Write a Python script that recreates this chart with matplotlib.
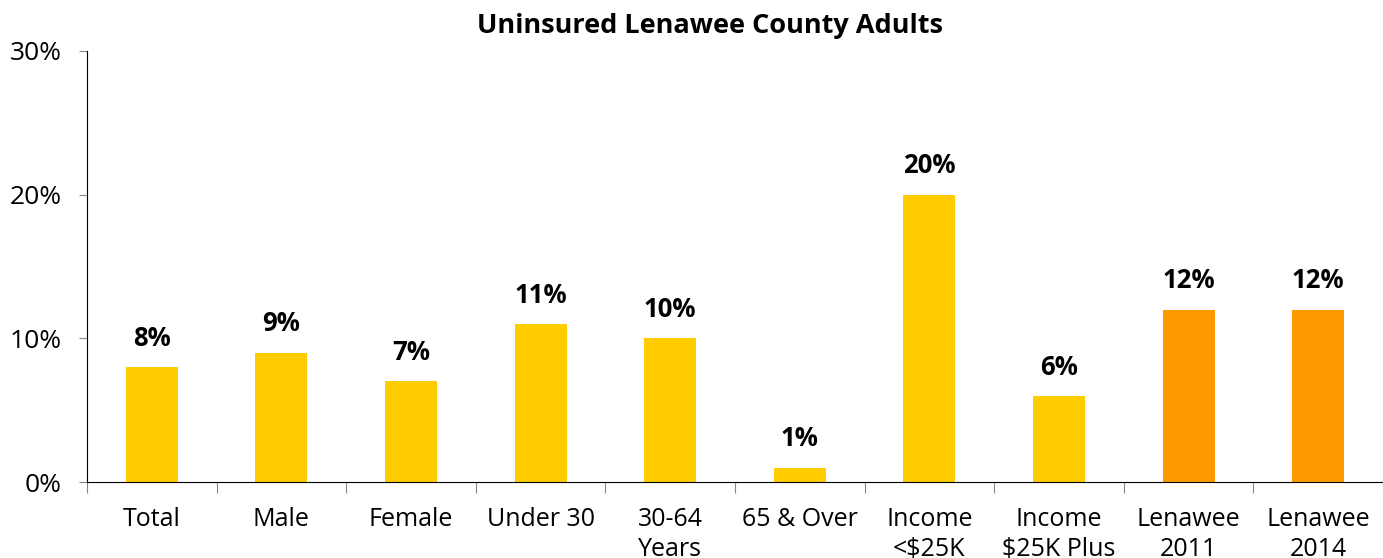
import matplotlib.pyplot as plt
import numpy as np

categories = ["Total", "Male", "Female", "Under 30", "30-64\nYears", "65 & Over",
              "Income\n<$25K", "Income\n$25K Plus", "Lenawee\n2011", "Lenawee\n2014"]
values = [8, 9, 7, 11, 10, 1, 20, 6, 12, 12]
colors = ["#FFCC00"] * 8 + ["#FF9900"] * 2

plt.rcParams['font.family'] = ['Open Sans', 'DejaVu Sans']

fig = plt.figure(figsize=(13.83, 5.58), dpi=100)
ax = fig.add_axes([87 / 1383, 76 / 558, 1 - 87 / 1383, 431 / 558])

x = np.arange(len(categories))
ax.bar(x, values, width=0.4, color=colors)

for xi, v in zip(x, values):
    ax.annotate(f"{v}%", (xi, v), xytext=(0, 11), textcoords="offset points",
                ha="center", va="bottom", fontsize=18.5, fontweight="bold")

ax.set_xlim(-0.5, len(categories) - 0.5)
ax.set_ylim(0, 30)
ax.set_yticks([0, 10, 20, 30])
ax.set_yticklabels(["0%", "10%", "20%", "30%"], fontsize=19)

ax.set_xticks(np.arange(len(categories) + 1) - 0.5)
ax.set_xticklabels([])
ax.set_xticks(x, minor=True)
ax.set_xticklabels(categories, minor=True, fontsize=18, linespacing=1.25)
ax.tick_params(axis="x", which="minor", length=0, pad=18)
ax.tick_params(axis="x", which="major", length=8, color="#888888")
ax.tick_params(axis="y", length=6, color="#888888", pad=12)

ax.spines["top"].set_visible(False)
ax.spines["right"].set_visible(False)

fig.text(710 / 1383, 1 - 26 / 558, "Uninsured Lenawee County Adults",
         ha="center", va="center", fontsize=19.5, fontweight="bold")

fig.savefig("out.png", dpi=100)
